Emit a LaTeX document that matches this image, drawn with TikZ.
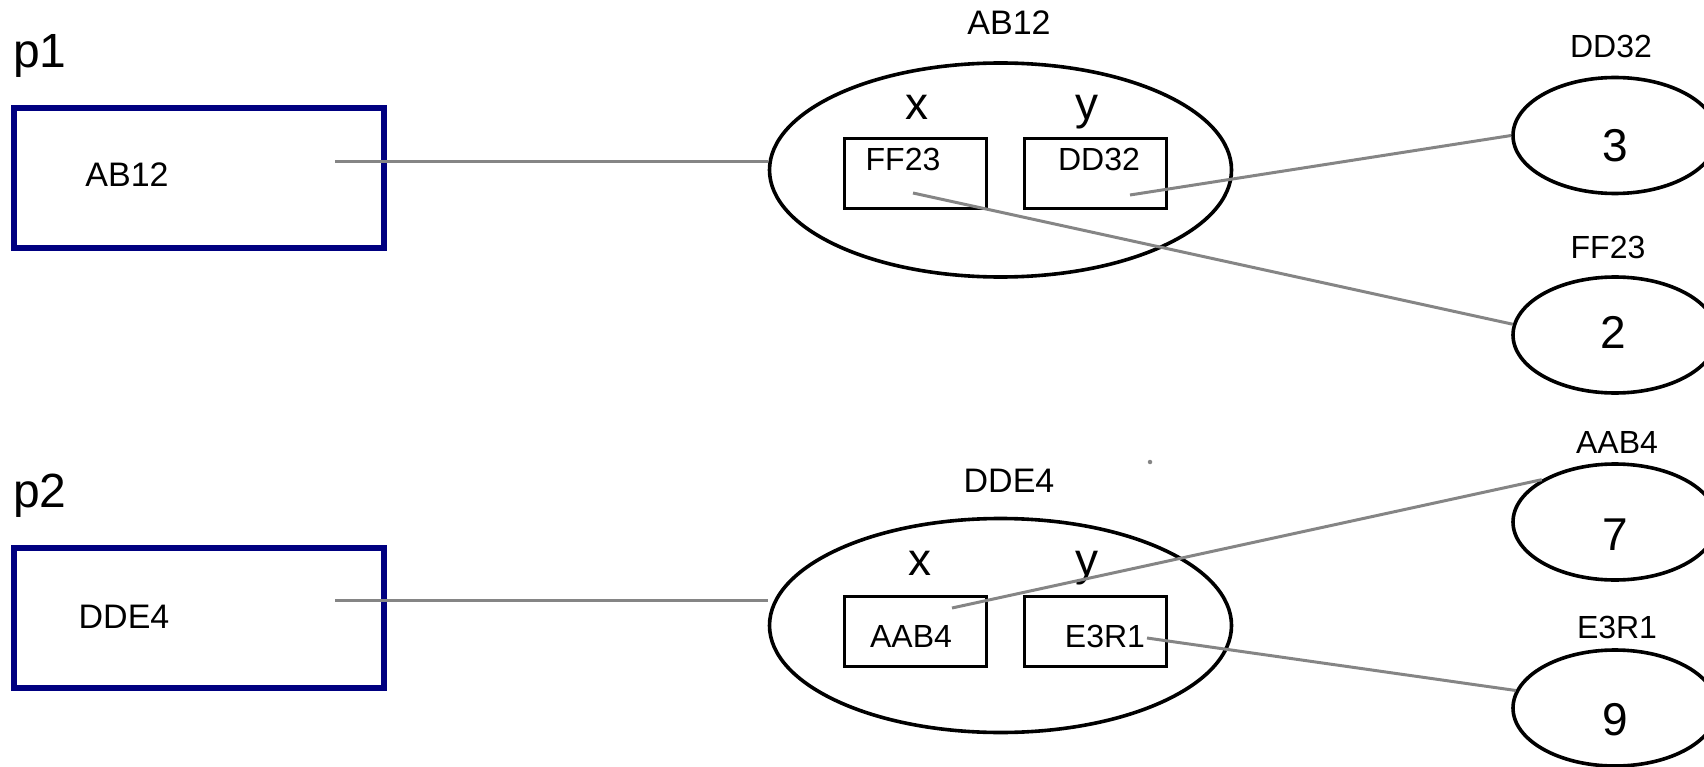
\documentclass[tikz,border=0pt]{standalone}
\usepackage{fontspec}
\setmainfont{Liberation Sans}
\usetikzlibrary{shapes.geometric}

\newlength{\du}
\setlength{\du}{15\unitlength}

\definecolor{varcolor}{rgb}{0.000000, 0.000000, 0.500000}
\definecolor{linkcolor}{rgb}{0.520000, 0.520000, 0.520000}

\tikzset{
  varbox/.style={draw=varcolor, line width=0.400000\du, inner sep=0pt,
    minimum width=24.666667\du, minimum height=9.333333\du},
  objell/.style={ellipse, draw, line width=0.240000\du, inner sep=0pt,
    minimum width=30.800000\du, minimum height=14.266667\du},
  fieldbox/.style={draw, line width=0.200000\du, inner sep=0pt,
    minimum width=9.466667\du, minimum height=4.666667\du},
  valell/.style={ellipse, draw, line width=0.240000\du, inner sep=0pt,
    minimum width=13.600000\du, minimum height=7.733333\du},
  link/.style={draw=linkcolor, line width=0.200000\du},
  vartxt/.style={inner sep=0pt, font=\fontsize{48}{52}\selectfont},
  reftxt/.style={inner sep=0pt, font=\fontsize{34}{38}\selectfont},
  fieldtxt/.style={inner sep=0pt, font=\fontsize{32}{36}\selectfont},
  nametxt/.style={inner sep=0pt, font=\fontsize{46}{50}\selectfont},
  numtxt/.style={inner sep=0pt, font=\fontsize{46}{50}\selectfont}
}

\begin{document}
\begin{tikzpicture}
\pgftransformxscale{1.000000}
\pgftransformyscale{-1.000000}
\useasboundingbox (0.000000\du,0.000000\du) rectangle (113.600000\du,51.133333\du);
\definecolor{dialinecolor}{rgb}{0.000000, 0.000000, 0.000000}
\pgfsetstrokecolor{dialinecolor}
% variable p1
\node[vartxt, anchor=base west] (p1) at (0.866667\du,4.533333\du){p1};
\node[varbox] (p1box) at (13.233333\du,11.900000\du){};
\node[reftxt] (p1ref) at (8.466667\du,11.666667\du){AB12};
\coordinate (p1out) at (22.333333\du,10.800000\du);
% object AB12
\node[reftxt] (objaname) at (67.266667\du,1.533333\du){AB12};
\node[objell] (obja) at (66.700000\du,11.333333\du){};
\node[nametxt, anchor=base] (objax) at (61.133333\du,8.000000\du){x};
\node[nametxt, anchor=base] (objay) at (72.466667\du,8.000000\du){y};
\node[fieldbox] (objaxbox) at (61.000000\du,11.600000\du){};
\node[fieldbox] (objaybox) at (73.000000\du,11.600000\du){};
\node[fieldtxt, anchor=base] (objaxref) at (60.200000\du,11.400000\du){FF23};
\node[fieldtxt, anchor=base] (objayref) at (73.266667\du,11.400000\du){DD32};
\coordinate (objaxout) at (60.866667\du,12.866667\du);
\coordinate (objayout) at (75.333333\du,13.000000\du);
% variable p2
\node[vartxt, anchor=base west] (p2) at (0.866667\du,33.800000\du){p2};
\node[varbox] (p2box) at (13.233333\du,41.166667\du){};
\node[reftxt] (p2ref) at (8.266667\du,41.133333\du){DDE4};
\coordinate (p2out) at (22.333333\du,40.000000\du);
% object DDE4
\node[reftxt] (objbname) at (67.266667\du,32.066667\du){DDE4};
\node[objell] (objb) at (66.700000\du,41.700000\du){};
\node[nametxt, anchor=base] (objbx) at (61.333333\du,38.333333\du){x};
\node[nametxt, anchor=base] (objby) at (72.466667\du,38.333333\du){y};
\node[fieldbox] (objbxbox) at (61.000000\du,42.066667\du){};
\node[fieldbox] (objbybox) at (73.000000\du,42.066667\du){};
\node[fieldtxt, anchor=base] (objbxref) at (60.733333\du,43.133333\du){AAB4};
\node[fieldtxt, anchor=base] (objbyref) at (73.666667\du,43.133333\du){E3R1};
\coordinate (objbxout) at (63.466667\du,40.533333\du);
\coordinate (objbyout) at (76.466667\du,42.533333\du);
% values
\node[fieldtxt] (vdname) at (107.400000\du,3.066667\du){DD32};
\node[valell] (vd) at (107.666667\du,9.033333\du){};
\node[numtxt, anchor=base] (vdnum) at (107.666667\du,10.800000\du){3};
\node[fieldtxt] (vfname) at (107.200000\du,16.466667\du){FF23};
\node[valell] (vf) at (107.666667\du,22.333333\du){};
\node[numtxt, anchor=base] (vfnum) at (107.533333\du,23.200000\du){2};
\node[fieldtxt] (vaname) at (107.800000\du,29.466667\du){AAB4};
\node[valell] (va) at (107.666667\du,34.800000\du){};
\node[numtxt, anchor=base] (vanum) at (107.666667\du,36.666667\du){7};
\node[fieldtxt] (vename) at (107.800000\du,41.800000\du){E3R1};
\node[valell] (ve) at (107.666667\du,47.200000\du){};
\node[numtxt, anchor=base] (venum) at (107.666667\du,49.000000\du){9};
% references
\pgfsetbuttcap
\draw[link] (p1out) -- (p1out -| obja.west);
\draw[link] (p2out) -- (p2out -| objb.west);
\draw[link] (objayout) -- (vd.west);
\draw[link] (objaxout) -- (vf.174);
\draw[link] (objbxout) -- (va.150);
\draw[link] (objbyout) -- (ve.170);
\fill[linkcolor] (76.666667\du,30.800000\du) circle (0.150000\du);
\end{tikzpicture}
\end{document}
